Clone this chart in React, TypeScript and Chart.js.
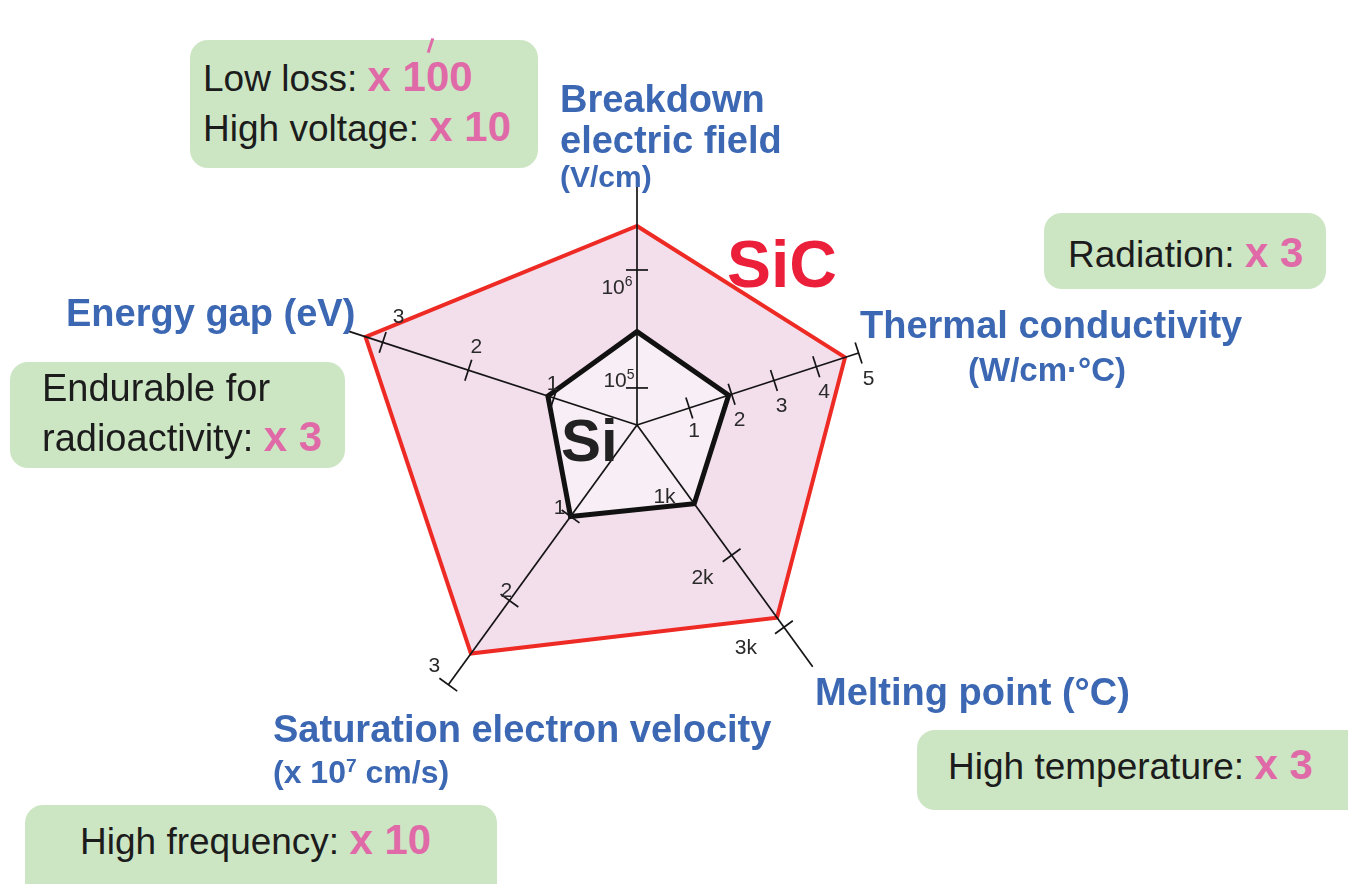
import React, { useEffect, useRef } from "react";
import { Chart, registerables } from "chart.js";

Chart.register(...registerables);

// ---------- data ----------
const categories = [
  "Breakdown electric field (V/cm)",
  "Thermal conductivity (W/cm·°C)",
  "Melting point (°C)",
  "Saturation electron velocity (x 10^7 cm/s)",
  "Energy gap (eV)",
];
// each axis has its own scale: value at the centre and at the outer radius
// (breakdown electric field is on a log10 scale)
const axisLog = [true, false, false, false, false];
const axisMin = [4.686, -0.236, 191, -0.087, 0.029];
const axisMax = [7.229, 6.506, 3562, 2.798, 3.362];
const axisEnd = [5.5e6, 5, 3550, 3, 3.43];

const siValues = [3.0e5, 1.93, 1285, 1.0, 1.07];
const sicValues = [2.36e6, 4.68, 2867, 2.63, 3.2];

const tickValues = [
  [1e5, 1e6],
  [1, 2, 3, 4, 5],
  [1000, 2000, 3000],
  [1, 2, 3],
  [1, 2, 3],
];
const tickLabels = [
  ["10^5", "10^6"],
  ["1", "2", "3", "4", "5"],
  ["1k", "2k", "3k"],
  ["1", "2", "3"],
  ["1", "2", "3"],
];

// ---------- styles ----------
const tickMarkShown = [
  [true, true],
  [true, true, true, true, true],
  [false, true, true],
  [true, true, true],
  [true, true, true],
];
// [perpendicular, along-axis] offsets of the tick labels (px)
const labelOffsets = [
  [[-18, 8], [-20, -17]],
  [[22, -2], [26, 0], [25, 0], [25, 0], [26, 2]],
  [[19, 1], [36, 0], [42, -7]],
  [[15, -2], [9, -7], [23, -8]],
  [[14, 6], [26, 0], [30, -7]],
];

const FONT = '"Liberation Sans", Arial, Helvetica, sans-serif';

const norm = (i: number, v: number) =>
  ((axisLog[i] ? Math.log10(v) : v) - axisMin[i]) / (axisMax[i] - axisMin[i]);

function drawTickLabel(ctx: CanvasRenderingContext2D, text: string, x: number, y: number) {
  const [base, sup] = text.split("^");
  ctx.font = `21px ${FONT}`;
  const wb = ctx.measureText(base).width;
  let ws = 0;
  if (sup) {
    ctx.font = `14px ${FONT}`;
    ws = ctx.measureText(sup).width;
  }
  const x0 = x - (wb + ws) / 2;
  ctx.textAlign = "left";
  ctx.textBaseline = "alphabetic";
  ctx.fillStyle = "#2a2a2a";
  ctx.font = `21px ${FONT}`;
  ctx.fillText(base, x0, y + 7.5);
  if (sup) {
    ctx.font = `14px ${FONT}`;
    ctx.fillText(sup, x0 + wb, y - 1);
  }
}

const axesPlugin = {
  id: "materialAxes",
  afterDatasetsDraw(chart: any) {
    const scale = chart.scales.r;
    const ctx: CanvasRenderingContext2D = chart.ctx;
    const cx = scale.xCenter;
    const cy = scale.yCenter;
    ctx.save();
    ctx.strokeStyle = "#151515";
    ctx.lineWidth = 1.7;
    ctx.lineCap = "butt";
    for (let i = 0; i < categories.length; i++) {
      const theta = scale.getIndexAngle(i) - Math.PI / 2;
      const dx = Math.cos(theta);
      const dy = Math.sin(theta);
      const px = -dy;
      const py = dx;
      const end = scale.getPointPositionForValue(i, norm(i, axisEnd[i]));
      ctx.beginPath();
      ctx.moveTo(cx, cy);
      ctx.lineTo(end.x, end.y);
      ctx.stroke();
      tickValues[i].forEach((t, k) => {
        const p = scale.getPointPositionForValue(i, norm(i, t));
        if (tickMarkShown[i][k]) {
          const h = 11;
          ctx.beginPath();
          ctx.moveTo(p.x - px * h, p.y - py * h);
          ctx.lineTo(p.x + px * h, p.y + py * h);
          ctx.stroke();
        }
        const [op, oa] = labelOffsets[i][k];
        drawTickLabel(ctx, tickLabels[i][k], p.x + px * op + dx * oa, p.y + py * op + dy * oa);
      });
    }
    ctx.restore();
  },
};

// ---------- overlay helpers ----------
const BLUE = "#3b67b3";
const PINK = "#e06aa8";
const GREEN = "#cce6c4";
const BLACK = "#1c1c1c";

function TextLine(props: { x: number; base: number; size: number; children: any; style?: any }) {
  const { x, base, size, children, style } = props;
  return (
    <div
      style={{
        position: "absolute",
        left: x,
        top: base - 0.8465 * size,
        fontSize: size,
        lineHeight: `${size}px`,
        whiteSpace: "nowrap",
        ...style,
      }}
    >
      {children}
    </div>
  );
}

function Box(props: { x: number; y: number; w: number; h: number }) {
  return (
    <div
      style={{
        position: "absolute",
        left: props.x,
        top: props.y,
        width: props.w,
        height: props.h,
        background: GREEN,
        borderRadius: 18,
      }}
    />
  );
}

const blk = { color: BLACK, fontSize: 37, fontWeight: 400 };
const pnk = { color: PINK, fontSize: 42, fontWeight: 700 };
const titleStyle = { color: BLUE, fontWeight: 700 };
const supStyle = { fontSize: "0.6em", position: "relative" as const, top: "-0.55em" };

export default function App() {
  const ref = useRef<HTMLCanvasElement>(null);

  useEffect(() => {
    const chart = new Chart(ref.current as HTMLCanvasElement, {
      type: "radar",
      data: {
        labels: categories,
        datasets: [
          {
            label: "Si",
            data: siValues.map((v, i) => norm(i, v)),
            borderColor: "#111111",
            borderWidth: 5,
            backgroundColor: "#f8eff6",
            fill: true,
            pointRadius: 0,
            borderJoinStyle: "miter",
            tension: 0,
          },
          {
            label: "SiC",
            data: sicValues.map((v, i) => norm(i, v)),
            borderColor: "#ee2a24",
            borderWidth: 4,
            backgroundColor: "#f3deec",
            fill: true,
            pointRadius: 0,
            borderJoinStyle: "miter",
            tension: 0,
          },
        ],
      },
      options: {
        responsive: false,
        animation: false,
        events: [],
        layout: { padding: { left: 337, right: 411, top: 125, bottom: 159 } },
        plugins: {
          legend: { display: false },
          tooltip: { enabled: false },
          title: { display: false },
        },
        scales: {
          r: {
            min: 0,
            max: 1,
            startAngle: 0,
            ticks: { display: false },
            grid: { display: false },
            angleLines: { display: false },
            pointLabels: { display: false },
          },
        },
      } as any,
      plugins: [axesPlugin],
    });
    return () => chart.destroy();
  }, []);

  return (
    <div
      style={{
        position: "absolute",
        left: 0,
        top: 0,
        width: 1348,
        height: 884,
        overflow: "hidden",
        background: "#ffffff",
        fontFamily: FONT,
      }}
    >
      <canvas ref={ref} width={1348} height={884} style={{ position: "absolute", left: 0, top: 0 }} />

      {/* callout boxes */}
      <Box x={190} y={40} w={348} h={128} />
      <Box x={1044} y={213} w={282} h={76} />
      <Box x={10} y={362} w={335} h={106} />
      <Box x={25} y={805} w={472} h={110} />
      <Box x={917} y={730} w={470} h={80} />

      <div
        style={{
          position: "absolute",
          left: 429,
          top: 38,
          width: 3,
          height: 15,
          background: PINK,
          transform: "rotate(18deg)",
        }}
      />

      <TextLine x={203} base={92} size={42}>
        <span style={blk}>Low loss: </span>
        <span style={pnk}>x 100</span>
      </TextLine>
      <TextLine x={203} base={142} size={42}>
        <span style={blk}>High voltage: </span>
        <span style={pnk}>x 10</span>
      </TextLine>
      <TextLine x={1068} base={268} size={42}>
        <span style={blk}>Radiation: </span>
        <span style={pnk}>x 3</span>
      </TextLine>
      <TextLine x={42} base={402} size={42}>
        <span style={{ ...blk, fontSize: 38 }}>Endurable for</span>
      </TextLine>
      <TextLine x={42} base={452} size={42}>
        <span style={{ ...blk, fontSize: 38 }}>radioactivity: </span>
        <span style={pnk}>x 3</span>
      </TextLine>
      <TextLine x={80} base={855} size={42}>
        <span style={blk}>High frequency: </span>
        <span style={pnk}>x 10</span>
      </TextLine>
      <TextLine x={948} base={780} size={42}>
        <span style={blk}>High temperature: </span>
        <span style={pnk}>x 3</span>
      </TextLine>

      {/* axis titles */}
      <TextLine x={560} base={112} size={38} style={titleStyle}>Breakdown</TextLine>
      <TextLine x={560} base={153} size={38} style={titleStyle}>electric field</TextLine>
      <TextLine x={560} base={187} size={30} style={titleStyle}>(V/cm)</TextLine>
      <TextLine x={66} base={326} size={38} style={titleStyle}>Energy gap (eV)</TextLine>
      <TextLine x={860} base={338} size={38} style={titleStyle}>Thermal conductivity</TextLine>
      <TextLine x={968} base={381} size={33} style={titleStyle}>(W/cm·°C)</TextLine>
      <TextLine x={815} base={705} size={38} style={titleStyle}>Melting point (°C)</TextLine>
      <TextLine x={273} base={742} size={38} style={titleStyle}>Saturation electron velocity</TextLine>
      <TextLine x={273} base={783} size={32} style={titleStyle}>
        (x 10<span style={supStyle}>7</span> cm/s)
      </TextLine>

      {/* material names */}
      <TextLine x={727} base={287} size={66} style={{ color: "#ec1f3a", fontWeight: 700 }}>SiC</TextLine>
      <TextLine x={561} base={462} size={60} style={{ color: "#222222", fontWeight: 700 }}>Si</TextLine>
    </div>
  );
}
